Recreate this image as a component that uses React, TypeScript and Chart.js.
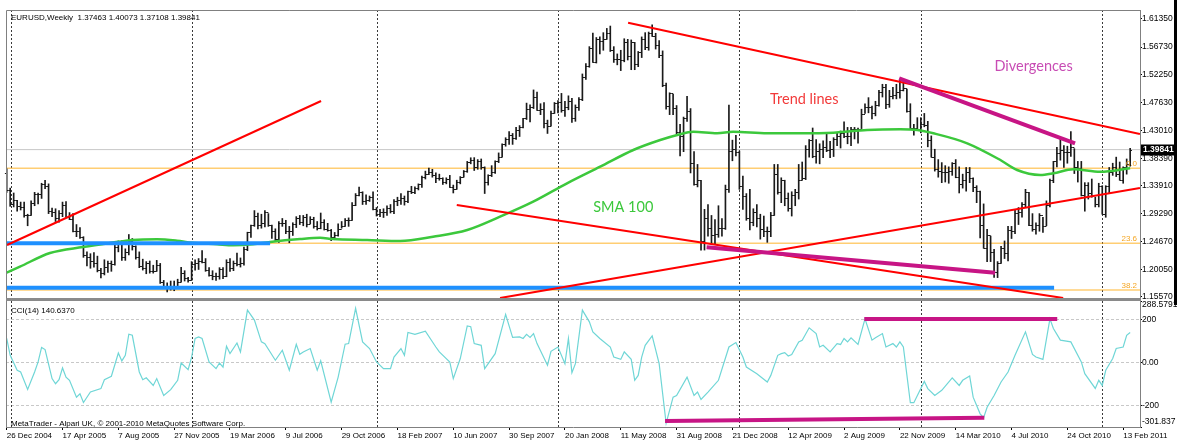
import React, { useEffect, useRef } from 'react';
import { Chart, registerables } from 'chart.js';

Chart.register(...registerables);

const UI_FONT = '"Liberation Sans", Arial, sans-serif';
const NOTE_FONT = 'Lato, "Open Sans", sans-serif';

const chartTitle = 'EURUSD,Weekly  1.37463 1.40073 1.37108 1.39841';
const cciTitle = 'CCI(14) 140.6370';
const footerText = 'MetaTrader - Alpari UK, \u00A9 2001-2010 MetaQuotes Software Corp.';

const dateLabels = ['26 Dec 2004', '17 Apr 2005', '7 Aug 2005', '27 Nov 2005', '19 Mar 2006', '9 Jul 2006', '29 Oct 2006', '18 Feb 2007', '10 Jun 2007', '30 Sep 2007', '20 Jan 2008', '11 May 2008', '31 Aug 2008', '21 Dec 2008', '12 Apr 2009', '2 Aug 2009', '22 Nov 2009', '14 Mar 2010', '4 Jul 2010', '24 Oct 2010', '13 Feb 2011'];
const dateLabelWeeks = [0, 16, 32, 48, 64, 80, 96, 112, 128, 144, 160, 176, 192, 208, 224, 240, 256, 272, 288, 304, 320];
const gridWeeks = [1.15, 53.0, 106.05, 157.9, 209.95, 261.95, 314.0];

const priceTicks = [1.6135, 1.5673, 1.5225, 1.4763, 1.4301, 1.3839, 1.3391, 1.2929, 1.2467, 1.2005, 1.1557];
const priceMin = 1.15404;
const priceMax = 1.62832;
const cciTicks = [-301.837, -200, 0, 200, 288.5791];
const cciTickText = ['-301.837', '-200', '0.00', '200', '288.5791'];
const cciLevels = [-200, 0, 200];
const cciMin = -301.837;
const cciMax = 288.5791;

const X_MIN = -0.2006;
const X_MAX = 324.82;

const firstOpen = 1.36;
const lastPrice = 1.39841;

const weekHigh = [
  1.3667, 1.3350, 1.3270, 1.3150, 1.3120, 1.3120, 1.2920, 1.3140, 1.3280, 1.3270,
  1.3430, 1.3478, 1.3420, 1.3020, 1.3010, 1.2980, 1.3120, 1.3127, 1.2947, 1.2930,
  1.2750, 1.2700, 1.2550, 1.2300, 1.2270, 1.2290, 1.2230, 1.2030, 1.2170, 1.2150,
  1.2150, 1.2430, 1.2480, 1.2480, 1.2350, 1.2586, 1.2520, 1.2400, 1.2300, 1.2180,
  1.2140, 1.2150, 1.2080, 1.2160, 1.2110, 1.1830, 1.1790, 1.1820, 1.1820, 1.1850,
  1.2044, 1.1990, 1.1880, 1.2140, 1.2170, 1.2190, 1.2323, 1.2190, 1.2040, 1.1990,
  1.1950, 1.2040, 1.2040, 1.2170, 1.2190, 1.2150, 1.2280, 1.2200, 1.2380, 1.2624,
  1.2740, 1.2980, 1.2940, 1.2920, 1.2979, 1.2930, 1.2740, 1.2680, 1.2800, 1.2850,
  1.2820, 1.2720, 1.2780, 1.2880, 1.2900, 1.2900, 1.2920, 1.2880, 1.2870, 1.2800,
  1.2940, 1.2830, 1.2770, 1.2670, 1.2620, 1.2760, 1.2800, 1.2850, 1.2860, 1.3110,
  1.3260, 1.3367, 1.3290, 1.3240, 1.3220, 1.3290, 1.3030, 1.3000, 1.3010, 1.3060,
  1.3080, 1.3160, 1.3200, 1.3260, 1.3220, 1.3300, 1.3380, 1.3370, 1.3420, 1.3550,
  1.3630, 1.3680, 1.3660, 1.3600, 1.3580, 1.3520, 1.3520, 1.3560, 1.3400, 1.3480,
  1.3540, 1.3640, 1.3790, 1.3850, 1.3852, 1.3820, 1.3830, 1.3700, 1.3570, 1.3720,
  1.3800, 1.3930, 1.4080, 1.4180, 1.4280, 1.4250, 1.4350, 1.4380, 1.4500, 1.4750,
  1.4720, 1.4967, 1.4930, 1.4740, 1.4760, 1.4470, 1.4620, 1.4760, 1.4790, 1.4910,
  1.4780, 1.4870, 1.4830, 1.4720, 1.4840, 1.5230, 1.5400, 1.5680, 1.5904, 1.5830,
  1.5840, 1.5910, 1.5980, 1.6019, 1.5680, 1.5560, 1.5620, 1.5810, 1.5800, 1.5790,
  1.5750, 1.5600, 1.5840, 1.5910, 1.5920, 1.6038, 1.5900, 1.5780, 1.5610, 1.5080,
  1.4920, 1.4900, 1.4710, 1.4400, 1.4520, 1.4860, 1.4660, 1.3950, 1.3740, 1.3480,
  1.3000, 1.3080, 1.2900, 1.2830, 1.3060, 1.2850, 1.3400, 1.4719, 1.4140, 1.4220,
  1.3960, 1.3550, 1.3260, 1.3330, 1.3010, 1.3080, 1.2920, 1.2890, 1.2710, 1.2950,
  1.3740, 1.3740, 1.3520, 1.3480, 1.3270, 1.3290, 1.3330, 1.3740, 1.3780, 1.4050,
  1.4150, 1.4340, 1.4150, 1.4080, 1.4130, 1.4240, 1.4120, 1.4180, 1.4260, 1.4290,
  1.4440, 1.4350, 1.4350, 1.4350, 1.4340, 1.4650, 1.4740, 1.4840, 1.4700, 1.4780,
  1.4960, 1.5060, 1.5060, 1.4960, 1.5010, 1.5060, 1.5144, 1.5140, 1.4980, 1.4740,
  1.4400, 1.4510, 1.4510, 1.4580, 1.4450, 1.4210, 1.3990, 1.3820, 1.3770, 1.3720,
  1.3700, 1.3770, 1.3820, 1.3700, 1.3580, 1.3690, 1.3690, 1.3520, 1.3390, 1.3300,
  1.3090, 1.2670, 1.2560, 1.2340, 1.2140, 1.2390, 1.2480, 1.2720, 1.2720, 1.3000,
  1.3030, 1.3110, 1.3330, 1.3280, 1.2930, 1.2780, 1.2930, 1.2870, 1.3140, 1.3500,
  1.3790, 1.4020, 1.4160, 1.4050, 1.4040, 1.4282, 1.4000, 1.3790, 1.3790, 1.3440,
  1.3440, 1.3500, 1.3200, 1.3430, 1.3390, 1.3390, 1.3690, 1.3760, 1.3860, 1.3780,
  1.3700, 1.3830, 1.4007,
];

const weekLow = [
  1.3280, 1.3050, 1.3040, 1.2970, 1.2990, 1.2870, 1.2730, 1.2900, 1.3060, 1.3090,
  1.3180, 1.3340, 1.2930, 1.2880, 1.2800, 1.2790, 1.2880, 1.2870, 1.2830, 1.2630,
  1.2550, 1.2520, 1.2210, 1.2070, 1.2030, 1.2050, 1.1970, 1.1870, 1.1920, 1.1960,
  1.1980, 1.2080, 1.2300, 1.2160, 1.2160, 1.2250, 1.2330, 1.2180, 1.2040, 1.2000,
  1.1940, 1.1950, 1.1950, 1.1980, 1.1780, 1.1700, 1.1640, 1.1670, 1.1660, 1.1710,
  1.1800, 1.1820, 1.1800, 1.1830, 1.2000, 1.2010, 1.2120, 1.1980, 1.1900, 1.1840,
  1.1830, 1.1850, 1.1860, 1.1890, 1.1980, 1.1990, 1.2070, 1.2050, 1.2080, 1.2320,
  1.2540, 1.2720, 1.2680, 1.2690, 1.2710, 1.2720, 1.2520, 1.2480, 1.2455, 1.2720,
  1.2600, 1.2450, 1.2570, 1.2700, 1.2750, 1.2730, 1.2710, 1.2760, 1.2690, 1.2660,
  1.2680, 1.2660, 1.2640, 1.2484, 1.2500, 1.2560, 1.2690, 1.2720, 1.2720, 1.2820,
  1.3060, 1.3220, 1.3080, 1.3080, 1.3130, 1.2990, 1.2890, 1.2880, 1.2866, 1.2900,
  1.2940, 1.2930, 1.3060, 1.3080, 1.3070, 1.3110, 1.3260, 1.3260, 1.3320, 1.3360,
  1.3500, 1.3570, 1.3530, 1.3440, 1.3480, 1.3410, 1.3420, 1.3360, 1.3270, 1.3330,
  1.3420, 1.3530, 1.3610, 1.3750, 1.3640, 1.3660, 1.3660, 1.3261, 1.3400, 1.3540,
  1.3590, 1.3770, 1.3860, 1.4040, 1.4070, 1.4070, 1.4150, 1.4200, 1.4340, 1.4480,
  1.4440, 1.4660, 1.4630, 1.4560, 1.4340, 1.4250, 1.4370, 1.4580, 1.4590, 1.4600,
  1.4530, 1.4640, 1.4430, 1.4450, 1.4630, 1.4790, 1.5140, 1.5340, 1.5420, 1.5410,
  1.5560, 1.5620, 1.5800, 1.5600, 1.5420, 1.5380, 1.5285, 1.5430, 1.5460, 1.5300,
  1.5300, 1.5350, 1.5500, 1.5630, 1.5620, 1.5850, 1.5640, 1.5500, 1.5020, 1.4650,
  1.4560, 1.4560, 1.4240, 1.3880, 1.3950, 1.4450, 1.3600, 1.3400, 1.3370, 1.2330,
  1.2330, 1.2560, 1.2430, 1.2430, 1.2540, 1.2560, 1.2670, 1.3280, 1.3800, 1.3880,
  1.3330, 1.3000, 1.2820, 1.2660, 1.2730, 1.2710, 1.2510, 1.2550, 1.2457, 1.2550,
  1.2900, 1.3250, 1.3110, 1.3060, 1.2970, 1.2890, 1.3060, 1.3170, 1.3480, 1.3490,
  1.3860, 1.3850, 1.3760, 1.3750, 1.3850, 1.3950, 1.3850, 1.3870, 1.4050, 1.4010,
  1.4180, 1.4080, 1.4050, 1.4160, 1.4090, 1.4330, 1.4580, 1.4590, 1.4490, 1.4540,
  1.4700, 1.4850, 1.4660, 1.4680, 1.4820, 1.4820, 1.4830, 1.4950, 1.4600, 1.4330,
  1.4220, 1.4300, 1.4260, 1.4360, 1.4030, 1.3860, 1.3630, 1.3530, 1.3440, 1.3450,
  1.3430, 1.3560, 1.3520, 1.3270, 1.3350, 1.3300, 1.3440, 1.3290, 1.3110, 1.2530,
  1.2360, 1.2140, 1.2140, 1.1880, 1.1876, 1.2110, 1.2190, 1.2150, 1.2520, 1.2600,
  1.2750, 1.2870, 1.3030, 1.2730, 1.2640, 1.2590, 1.2640, 1.2620, 1.2730, 1.3040,
  1.3440, 1.3700, 1.3810, 1.3690, 1.3760, 1.3870, 1.3590, 1.3450, 1.3220, 1.2970,
  1.3170, 1.3200, 1.3040, 1.3040, 1.2920, 1.2870, 1.3260, 1.3560, 1.3540, 1.3480,
  1.3430, 1.3580, 1.3711,
];

const weekClose = [
  1.3320, 1.3090, 1.3150, 1.3050, 1.3040, 1.2900, 1.2900, 1.3100, 1.3250, 1.3250,
  1.3420, 1.3390, 1.2980, 1.2960, 1.2860, 1.2940, 1.3080, 1.2880, 1.2840, 1.2640,
  1.2640, 1.2540, 1.2250, 1.2210, 1.2150, 1.2120, 1.2000, 1.1950, 1.2050, 1.2120,
  1.2100, 1.2380, 1.2460, 1.2210, 1.2290, 1.2480, 1.2400, 1.2220, 1.2060, 1.2030,
  1.2120, 1.1990, 1.1990, 1.2080, 1.1800, 1.1720, 1.1700, 1.1730, 1.1720, 1.1800,
  1.1960, 1.1870, 1.1840, 1.2100, 1.2110, 1.2150, 1.2140, 1.2000, 1.1920, 1.1900,
  1.1900, 1.2020, 1.1900, 1.2140, 1.2030, 1.2110, 1.2100, 1.2120, 1.2340, 1.2620,
  1.2740, 1.2890, 1.2740, 1.2780, 1.2950, 1.2750, 1.2650, 1.2520, 1.2780, 1.2780,
  1.2640, 1.2640, 1.2760, 1.2860, 1.2800, 1.2880, 1.2760, 1.2840, 1.2720, 1.2690,
  1.2800, 1.2680, 1.2660, 1.2540, 1.2580, 1.2680, 1.2730, 1.2820, 1.2830, 1.3080,
  1.3240, 1.3290, 1.3140, 1.3160, 1.3200, 1.3000, 1.2930, 1.2960, 1.2950, 1.3030,
  1.2980, 1.3130, 1.3160, 1.3180, 1.3130, 1.3300, 1.3280, 1.3360, 1.3410, 1.3530,
  1.3580, 1.3620, 1.3560, 1.3520, 1.3520, 1.3450, 1.3500, 1.3370, 1.3330, 1.3450,
  1.3540, 1.3630, 1.3780, 1.3820, 1.3690, 1.3800, 1.3700, 1.3450, 1.3560, 1.3620,
  1.3790, 1.3870, 1.4070, 1.4160, 1.4230, 1.4180, 1.4300, 1.4350, 1.4500, 1.4650,
  1.4680, 1.4850, 1.4640, 1.4660, 1.4420, 1.4380, 1.4590, 1.4750, 1.4760, 1.4640,
  1.4690, 1.4790, 1.4510, 1.4680, 1.4820, 1.5180, 1.5360, 1.5650, 1.5430, 1.5800,
  1.5780, 1.5810, 1.5900, 1.5620, 1.5480, 1.5480, 1.5460, 1.5750, 1.5530, 1.5750,
  1.5400, 1.5590, 1.5800, 1.5670, 1.5910, 1.5860, 1.5700, 1.5550, 1.5050, 1.4700,
  1.4920, 1.4670, 1.4270, 1.4200, 1.4500, 1.4620, 1.3760, 1.3420, 1.3480, 1.2480,
  1.2850, 1.2700, 1.2580, 1.2600, 1.2700, 1.2700, 1.3330, 1.3960, 1.4000, 1.3940,
  1.3390, 1.3220, 1.2850, 1.2800, 1.2950, 1.2860, 1.2670, 1.2650, 1.2650, 1.2900,
  1.3580, 1.3280, 1.3480, 1.3180, 1.3030, 1.3230, 1.3290, 1.3480, 1.3520, 1.3990,
  1.4150, 1.3880, 1.3960, 1.4000, 1.4030, 1.3970, 1.3990, 1.4160, 1.4200, 1.4250,
  1.4200, 1.4200, 1.4320, 1.4330, 1.4330, 1.4570, 1.4690, 1.4680, 1.4580, 1.4720,
  1.4940, 1.5010, 1.4730, 1.4860, 1.4880, 1.4930, 1.4960, 1.5000, 1.4620, 1.4340,
  1.4340, 1.4330, 1.4410, 1.4390, 1.4150, 1.3870, 1.3670, 1.3640, 1.3610, 1.3620,
  1.3630, 1.3760, 1.3540, 1.3420, 1.3480, 1.3610, 1.3510, 1.3370, 1.3300, 1.2750,
  1.2370, 1.2580, 1.2290, 1.1970, 1.2110, 1.2370, 1.2280, 1.2660, 1.2640, 1.2940,
  1.2950, 1.3090, 1.3280, 1.2750, 1.2680, 1.2750, 1.2900, 1.2720, 1.3080, 1.3490,
  1.3790, 1.3930, 1.3980, 1.3950, 1.3940, 1.4020, 1.3700, 1.3680, 1.3240, 1.3400,
  1.3270, 1.3230, 1.3090, 1.3380, 1.2930, 1.3380, 1.3610, 1.3690, 1.3580, 1.3490,
  1.3690, 1.3746, 1.39841,
];

const smaWeek = [0, 3.8, 12.4, 21.9, 29.6, 36.2, 43.1, 48.8, 53.1, 60.3, 64.9, 70.6, 75.5, 84.1, 89.8, 93.5, 103.3, 112.8, 122.2, 132, 141.4, 150.9, 160.6, 170.1, 179.6, 187.3, 192.2, 196.8, 203.6, 208.2, 218, 227.4, 236.9, 246.6, 256.1, 261, 265.6, 275.3, 284.8, 289.6, 296.2, 300, 305.7, 313.4, 322];
const smaValue = [1.1957, 1.2056, 1.2282, 1.2380, 1.2446, 1.2496, 1.2507, 1.2484, 1.2451, 1.2425, 1.2408, 1.2425, 1.2463, 1.2512, 1.2533, 1.2512, 1.2496, 1.2479, 1.2550, 1.2660, 1.2879, 1.3126, 1.3429, 1.3703, 1.3978, 1.4142, 1.4225, 1.4279, 1.4253, 1.4279, 1.4253, 1.4253, 1.4263, 1.4307, 1.4319, 1.4307, 1.4253, 1.4088, 1.3813, 1.3648, 1.3566, 1.3594, 1.3660, 1.3620, 1.3676];

const fibLevels = [1.3676, 1.2441, 1.1672];
const fibText = ['0.0', '23.6', '38.2'];

// [startWeek, startValue, endWeek, endValue]
const trendLines = [
  [0.09, 1.2413, 90.1, 1.4785],
  [178.1, 1.6074, 324.8, 1.4241],
  [129.0, 1.3072, 302.8, 1.1540],
  [141.4, 1.1540, 324.8, 1.3352],
];
const supportLines = [
  [-0.2, 1.2441, 75.5, 1.2441],
  [-0.2, 1.1710, 300.2, 1.1710],
];
const divergencePrice = [
  [255.8, 1.5158, 306.2, 1.4088],
  [200.6, 1.2375, 283.3, 1.1957],
];
const divergenceCci = [
  [245.8, 204, 301.1, 204],
  [188.7, -274, 280.2, -258],
];

const cciWeek = [0, 1, 3, 4, 6, 8, 9, 10, 11, 13, 14, 15, 16, 17, 18, 20, 21, 22, 24, 27, 28, 30, 32, 33, 34, 35, 36, 38, 39, 40, 42, 43, 45, 47, 49, 50, 52, 53, 54, 55, 56, 58, 60, 61, 62, 63, 64, 66, 67, 69, 71, 73, 74, 77, 79, 81, 83, 84, 85, 87, 89, 90, 93, 95, 97, 98, 100, 102, 104, 106, 108, 110, 111, 113, 114, 115, 117, 120, 123, 124, 127, 128, 130, 132, 133, 134, 136, 137, 140, 143, 145, 147, 148, 149, 150, 151, 152, 155, 156, 158, 160, 161, 162, 163, 165, 167, 168, 170, 173, 174, 176, 177, 179, 180, 181, 182, 183, 185, 187, 189, 191, 192, 195, 197, 198, 199, 201, 204, 207, 209, 211, 212, 215, 218, 219, 221, 222, 223, 224, 225, 227, 228, 230, 232, 233, 234, 236, 238, 239, 240, 241, 242, 244, 246, 248, 249, 251, 252, 254, 255, 256, 257, 259, 260, 263, 264, 266, 268, 271, 273, 274, 276, 277, 279, 280, 281, 283, 285, 287, 289, 292, 294, 295, 297, 299, 300, 302, 305, 308, 309, 312, 313, 314, 315, 317, 318, 320, 321, 322];
const cciValue = [113, 34, -36, -44, -126, -44, 3, 71, 61, -75, -99, -80, -25, -68, -83, -162, -146, -187, -138, -122, -80, -64, 45, 8, 34, 133, 128, -44, -80, -71, -107, -75, -154, -127, -83, -2, -33, 26, 113, 120, 113, 3, -28, -2, -21, 77, 42, 92, 50, 246, 199, 97, 89, 11, 58, -36, 86, 39, 50, 66, -36, 8, -185, -68, 86, 89, 254, 97, 66, 3, -28, -28, 26, 66, 34, 141, 132, 147, 73, 50, 3, -75, 19, 172, 168, 89, 81, -28, 42, 226, 118, 120, 113, 132, 118, 136, 89, -13, 53, 73, -5, 113, -47, -5, 246, 191, 144, 113, 73, 26, 15, 50, 15, -83, -60, 26, 81, 125, -5, -285, -162, -154, -68, -154, -138, -173, -138, -83, 73, 94, 26, -21, -52, -91, -60, 34, 42, 47, 31, 38, 97, 105, 163, 136, 73, 81, 50, 89, 85, 113, 97, 116, 85, 205, 105, 116, 136, 73, 89, 73, 97, 73, -188, -188, -88, -122, -154, -130, -72, -107, -83, -63, -162, -240, -258, -209, -154, -91, -44, 34, 144, 38, 26, 15, 205, 160, 105, 97, 3, -52, -121, -83, -107, -36, 19, 66, 73, 128, 140.637];

const noteText = ['Trend lines', 'SMA 100', 'Divergences'];
const noteWeek = [218.8, 168.1, 283.1];
const notePrice = [1.4818, 1.3034, 1.535];
const noteColor = ['#F23A3A', '#3CC83C', '#C84CB4'];

const seg = (s: number[], color: string, width: number, order: number) => ({
  type: 'line' as const,
  data: [{ x: s[0], y: s[1] }, { x: s[2], y: s[3] }],
  borderColor: color,
  borderWidth: width,
  pointRadius: 0,
  fill: false,
  tension: 0,
  order,
});

const drawGridV = (chart: any) => {
  const { ctx, chartArea: a, scales } = chart;
  const x = scales.x;
  ctx.save();
  ctx.strokeStyle = '#3a3a3a';
  ctx.lineWidth = 1;
  ctx.setLineDash([2, 2]);
  gridWeeks.forEach((w) => {
    const px = Math.round(x.getPixelForValue(w)) + 0.5;
    ctx.beginPath();
    ctx.moveTo(px, a.top);
    ctx.lineTo(px, a.bottom);
    ctx.stroke();
  });
  ctx.restore();
};

const pricePlugin = {
  id: 'pricePlugin',
  beforeDatasetsDraw(chart: any) {
    drawGridV(chart);
  },
  afterDatasetDraw(chart: any, args: any) {
    if (args.meta.type !== 'bar') return;
    const { ctx, scales } = chart;
    const { x, y } = scales;
    ctx.save();
    ctx.strokeStyle = '#1a1a1a';
    ctx.lineWidth = 1;
    ctx.beginPath();
    for (let i = 0; i < weekClose.length; i++) {
      const px = x.getPixelForValue(i);
      const open = i === 0 ? firstOpen : weekClose[i - 1];
      const yo = Math.round(y.getPixelForValue(open)) + 0.5;
      const yc = Math.round(y.getPixelForValue(weekClose[i])) + 0.5;
      ctx.moveTo(px - 1.8, yo);
      ctx.lineTo(px, yo);
      ctx.moveTo(px, yc);
      ctx.lineTo(px + 1.8, yc);
    }
    ctx.stroke();
    ctx.restore();
  },
  afterDraw(chart: any) {
    const { ctx, chartArea: a, scales } = chart;
    const { x, y } = scales;
    ctx.save();
    // frame
    ctx.strokeStyle = '#808080';
    ctx.lineWidth = 1;
    ctx.beginPath();
    ctx.moveTo(a.left + 0.5, a.bottom);
    ctx.lineTo(a.left + 0.5, a.top + 0.5);
    ctx.lineTo(a.right, a.top + 0.5);
    ctx.stroke();
    ctx.fillStyle = '#8a8a8a';
    ctx.fillRect(a.left, a.bottom, a.right - a.left + 1, 3);
    ctx.fillStyle = '#000';
    ctx.fillRect(1174, 0, 3, chart.height);
    // title
    ctx.font = `8px ${UI_FONT}`;
    ctx.fillStyle = '#000';
    ctx.textAlign = 'left';
    ctx.textBaseline = 'alphabetic';
    ctx.fillText(chartTitle, 11, 19.5);
    // fib labels
    ctx.fillStyle = '#F5A623';
    ctx.textAlign = 'right';
    fibLevels.forEach((l, i) => {
      ctx.fillText(fibText[i], a.right - 3, y.getPixelForValue(l) - 2);
    });
    // notes
    ctx.font = `14.5px ${NOTE_FONT}`;
    ctx.textAlign = 'left';
    ctx.textBaseline = 'middle';
    noteText.forEach((t, i) => {
      ctx.fillStyle = noteColor[i];
      ctx.fillText(t, x.getPixelForValue(noteWeek[i]), y.getPixelForValue(notePrice[i]));
    });
    // current price box
    const py = y.getPixelForValue(lastPrice);
    ctx.fillStyle = '#000';
    ctx.fillRect(a.right + 1, Math.round(py) - 5.5, 34, 11);
    ctx.fillStyle = '#fff';
    ctx.font = `bold 8.5px ${UI_FONT}`;
    ctx.fillText(lastPrice.toFixed(5), a.right + 3, py);
    ctx.restore();
  },
};

const cciPlugin = {
  id: 'cciPlugin',
  beforeDraw(chart: any) {
    const s = chart.scales.y;
    const a = chart.chartArea;
    const items = s.getLabelItems(a);
    items.forEach((it: any) => {
      const t = it.options.translation;
      t[1] = Math.min(Math.max(t[1], a.top + 3.5), a.bottom - 5);
    });
  },
  beforeDatasetsDraw(chart: any) {
    drawGridV(chart);
  },
  afterDraw(chart: any) {
    const { ctx, chartArea: a } = chart;
    ctx.save();
    ctx.strokeStyle = '#808080';
    ctx.lineWidth = 1;
    ctx.beginPath();
    ctx.moveTo(a.left + 0.5, a.top);
    ctx.lineTo(a.left + 0.5, a.bottom);
    ctx.stroke();
    ctx.font = `8px ${UI_FONT}`;
    ctx.fillStyle = '#000';
    ctx.textAlign = 'left';
    ctx.textBaseline = 'alphabetic';
    ctx.fillText(cciTitle, 11, a.top + 11.5);
    ctx.fillText(footerText, 11, a.bottom - 1);
    ctx.restore();
  },
};

export default function App() {
  const topRef = useRef<HTMLCanvasElement>(null);
  const botRef = useRef<HTMLCanvasElement>(null);

  useEffect(() => {
    const priceChart = new Chart(topRef.current as HTMLCanvasElement, {
      type: 'bar',
      data: {
        datasets: [
          seg([X_MIN, lastPrice, X_MAX, lastPrice], '#C8C8C8', 1, 100),
          ...fibLevels.map((l) => seg([X_MIN, l, X_MAX, l], 'rgba(255,165,0,0.55)', 1.5, 90)),
          {
            type: 'bar',
            data: weekHigh.map((h, i) => ({ x: i, y: [weekLow[i], h] })),
            backgroundColor: '#1a1a1a',
            borderWidth: 0,
            barThickness: 1,
            order: 50,
          },
          {
            type: 'line',
            data: smaWeek.map((w, i) => ({ x: w, y: smaValue[i] })),
            borderColor: '#3CC83C',
            borderWidth: 2.5,
            pointRadius: 0,
            cubicInterpolationMode: 'monotone',
            fill: false,
            order: 40,
          },
          ...supportLines.map((s) => seg(s, '#1E90FF', 4, 30)),
          ...trendLines.map((s) => seg(s, '#FF0000', 2, 20)),
          ...divergencePrice.map((s) => seg(s, '#C71585', 4, 10)),
        ] as any,
      },
      options: {
        responsive: false,
        animation: false,
        events: [],
        layout: { padding: { left: 6, top: 10, right: 0, bottom: 7 } },
        plugins: { legend: { display: false }, tooltip: { enabled: false } },
        scales: {
          x: { type: 'linear', display: false, min: X_MIN, max: X_MAX, offset: false },
          y: {
            type: 'linear',
            position: 'right',
            min: priceMin,
            max: priceMax,
            bounds: 'data',
            afterBuildTicks: (s: any) => {
              s.ticks = priceTicks.map((v) => ({ value: v }));
            },
            afterFit: (s: any) => {
              s.width = 37;
            },
            ticks: {
              autoSkip: false,
              padding: 0,
              color: '#000',
              font: { family: UI_FONT, size: 8.5 },
              callback: (v: any) => Number(v).toFixed(5),
            },
            grid: { drawOnChartArea: false, drawTicks: true, tickLength: 2, tickColor: '#000' },
            border: { display: true, color: '#808080' },
          },
        },
      } as any,
      plugins: [pricePlugin],
    });

    const cciChart = new Chart(botRef.current as HTMLCanvasElement, {
      type: 'line',
      data: {
        datasets: [
          {
            type: 'line',
            data: cciWeek.map((w, i) => ({ x: w, y: cciValue[i] })),
            borderColor: '#6FD6D6',
            borderWidth: 1.2,
            pointRadius: 0,
            tension: 0,
            fill: false,
            order: 2,
          },
          ...divergenceCci.map((s) => seg(s, '#C71585', 4, 1)),
        ] as any,
      },
      options: {
        responsive: false,
        animation: false,
        events: [],
        layout: { padding: { left: 6, top: 11, right: 0, bottom: 0 } },
        plugins: { legend: { display: false }, tooltip: { enabled: false } },
        scales: {
          x: {
            type: 'linear',
            min: X_MIN,
            max: X_MAX,
            offset: false,
            bounds: 'data',
            afterBuildTicks: (s: any) => {
              s.ticks = dateLabelWeeks.map((v) => ({ value: v }));
            },
            afterFit: (s: any) => {
              s.height = 14;
            },
            ticks: {
              align: 'start',
              autoSkip: false,
              maxRotation: 0,
              minRotation: 0,
              padding: 1,
              color: '#000',
              font: { family: UI_FONT, size: 8 },
              callback: (_v: any, i: number) => dateLabels[i],
            },
            grid: { drawOnChartArea: false, drawTicks: true, tickLength: 3, tickColor: '#000' },
            border: { display: true, color: '#808080' },
          },
          y: {
            type: 'linear',
            position: 'right',
            min: cciMin,
            max: cciMax,
            bounds: 'data',
            afterBuildTicks: (s: any) => {
              s.ticks = cciTicks.map((v) => ({ value: v }));
            },
            afterFit: (s: any) => {
              s.width = 37;
            },
            ticks: {
              autoSkip: false,
              padding: 0,
              color: '#000',
              font: { family: UI_FONT, size: 8.5 },
              callback: (_v: any, i: number) => cciTickText[i],
            },
            grid: {
              drawOnChartArea: true,
              drawTicks: true,
              tickLength: 2,
              tickColor: '#000',
              color: (c: any) => (c.tick && cciLevels.includes(c.tick.value) ? '#C8C8C8' : 'rgba(0,0,0,0)'),
            },
            border: { display: true, color: '#808080', dash: [3, 2] },
          },
        },
      } as any,
      plugins: [cciPlugin],
    });

    return () => {
      priceChart.destroy();
      cciChart.destroy();
    };
  }, []);

  return (
    <div style={{ position: 'absolute', left: 0, top: 0, width: 1177, height: 441, background: '#fff', overflow: 'hidden' }}>
      <canvas ref={topRef} width={1177} height={305} style={{ position: 'absolute', left: 0, top: 0 }} />
      <canvas ref={botRef} width={1177} height={151} style={{ position: 'absolute', left: 0, top: 290 }} />
    </div>
  );
}
